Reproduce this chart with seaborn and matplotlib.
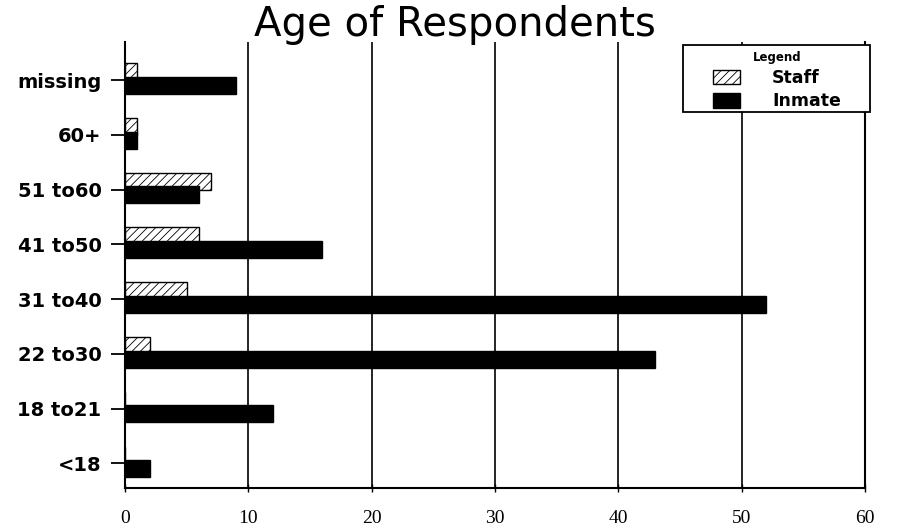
import matplotlib
matplotlib.use("Agg")
import matplotlib.pyplot as plt
from matplotlib.patches import Patch, Rectangle
import seaborn as sns
import pandas as pd

categories = ["missing", "60+", "51 to60", "41 to50", "31 to40", "22 to30", "18 to21", "<18"]
staff = [1, 1, 7, 6, 5, 2, 0, 0]
inmate = [9, 1, 6, 16, 52, 43, 12, 2]
groups = ["Staff", "Inmate"]
x_ticks = [0, 10, 20, 30, 40, 50, 60]
x_tick_labels = ["0", "10", "20", "30", "40", "50", "60"]

df = pd.DataFrame({
    "Age": categories * 2,
    "Count": staff + inmate,
    "Group": ["Staff"] * len(categories) + ["Inmate"] * len(categories),
})

sns.set_theme(style="white")
plt.rcParams['font.family'] = ['DejaVu Sans']
plt.rcParams['text.color'] = 'black'
plt.rcParams['xtick.color'] = 'black'
plt.rcParams['ytick.color'] = 'black'
plt.rcParams['xtick.labelcolor'] = 'black'
plt.rcParams['ytick.labelcolor'] = 'black'
plt.rcParams['hatch.color'] = '#777777'
plt.rcParams['hatch.linewidth'] = 0.6

fig = plt.figure(figsize=(9.09, 5.30), dpi=100)
ax = fig.add_axes([0.1375, 0.079, 0.814, 0.842])

sns.barplot(data=df, y="Age", x="Count", hue="Group", hue_order=groups,
            order=categories, palette={"Staff": "white", "Inmate": "black"},
            width=0.62, orient="h", ax=ax, edgecolor="black", linewidth=1.0,
            legend=False)

for bar in ax.containers[0]:
    bar.set_hatch('////')
for bar in ax.containers[1]:
    bar.set_y(bar.get_y() - 0.06)

ax.set_xlim(0, 60)
ax.set_ylim(7.45, -0.7)
ax.set_xticks(x_ticks)
ax.set_xticklabels(x_tick_labels, fontfamily="Liberation Serif", fontsize=14)
ax.xaxis.grid(True, color="black", linewidth=1.2)
ax.set_axisbelow(True)
ax.set_xlabel("")
ax.set_ylabel("")
for lbl in ax.get_yticklabels():
    lbl.set_fontweight("bold")
    lbl.set_fontsize(14)
    lbl.set_fontfamily("DejaVu Sans")

for side in ["left", "bottom", "right"]:
    ax.spines[side].set_visible(True)
    ax.spines[side].set_color("black")
    ax.spines[side].set_linewidth(1.5)
ax.spines["top"].set_visible(False)

ax.tick_params(axis="y", direction="out", length=10, width=1.3, color="black", left=True, pad=7)
ax.tick_params(axis="x", direction="inout", length=6, width=1.0, color="black", bottom=True, pad=13)

fig.text(0.5, 0.952, "Age of Respondents", ha="center", va="center", fontsize=29,
         fontfamily="DejaVu Sans", color="black")

# legend frame
W, H = 909, 530
fig.patches.append(Rectangle((683 / W, 1 - 112 / H), (870 - 683) / W, (112 - 45) / H,
                             transform=fig.transFigure, facecolor="white",
                             edgecolor="black", linewidth=1.3, zorder=5))

handles = [Patch(facecolor="white", edgecolor="black", hatch="////", label="Staff"),
           Patch(facecolor="black", edgecolor="black", label="Inmate")]
leg = fig.legend(handles=handles, loc="upper left", bbox_to_anchor=(713 / W, 1 - 51 / H),
                 title="Legend", frameon=False,
                 prop={"weight": "bold", "size": 12.5},
                 title_fontproperties={"weight": "bold", "size": 8.5},
                 handlelength=1.55, handleheight=0.9, handletextpad=1.85, borderpad=0,
                 labelspacing=0.3, borderaxespad=0)
leg.set_zorder(6)

fig.savefig("out.png", dpi=100)
